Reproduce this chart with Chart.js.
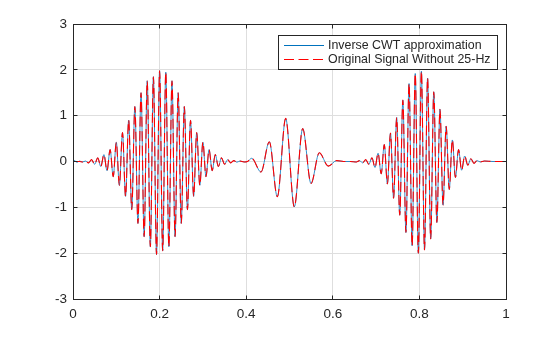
<!DOCTYPE html>
<html>
<head>
<meta charset="utf-8">
<script src="https://cdn.jsdelivr.net/npm/chart.js@4"></script>
<style>
  html, body { margin: 0; padding: 0; background: #fff; }
</style>
</head>
<body>
<canvas id="cwtChart" width="560" height="337"></canvas>
<script>
// Time axis (s): extrema of each burst plus a few quiet points between them
const timeSec = [
  0, 0.004, 0.009, 0.015, 0.022, 0.029,
  0.0357, 0.0429, 0.05, 0.0571, 0.0643, 0.0714, 0.0786, 0.0857, 0.0929, 0.1,
  0.1071, 0.1143, 0.1214, 0.1286, 0.1357, 0.1429, 0.15, 0.1571, 0.1643, 0.1714,
  0.1786, 0.1857, 0.1929, 0.2, 0.2071, 0.2143, 0.2214, 0.2286, 0.2357, 0.2429,
  0.25, 0.2571, 0.2643, 0.2714, 0.2786, 0.2857, 0.2929, 0.3, 0.3071, 0.3143,
  0.3214, 0.3286, 0.3357, 0.3429, 0.35, 0.3571, 0.3643,
  0.3714, 0.3786, 0.3857, 0.395, 0.403,
  0.4126, 0.4342, 0.4534, 0.4719, 0.4912, 0.5111, 0.5305, 0.5497, 0.5688, 0.5896,
  0.609, 0.625, 0.64,
  0.6546, 0.6618, 0.6689, 0.6761, 0.6832, 0.6904, 0.6975, 0.7046, 0.7118, 0.7189,
  0.7261, 0.7332, 0.7404, 0.7475, 0.7546, 0.7618, 0.7689, 0.7761, 0.7832, 0.7904,
  0.7975, 0.8046, 0.8118, 0.8189, 0.8261, 0.8332, 0.8404, 0.8475, 0.8546, 0.8618,
  0.8689, 0.8761, 0.8832, 0.8904, 0.8975, 0.9046, 0.9118, 0.9189, 0.9261, 0.9332,
  0.9404,
  0.95, 0.97, 1
];

// original signal with the 25 Hz tone taken out
const signalNo25Hz = [
  0, 0, 0, 0, -0.01, 0.01,
  -0.03, 0.04, -0.06, 0.08, -0.11, 0.15, -0.20, 0.26, -0.33, 0.42,
  -0.52, 0.63, -0.76, 0.90, -1.05, 1.20, -1.35, 1.50, -1.64, 1.76,
  -1.86, 1.85, -2.03, 1.98, -1.95, 1.95, -1.86, 1.76, -1.64, 1.50,
  -1.35, 1.20, -1.05, 0.90, -0.76, 0.63, -0.52, 0.42, -0.33, 0.26,
  -0.20, 0.15, -0.11, 0.08, -0.06, 0.04, -0.03,
  0.02, -0.015, 0.01, -0.01, 0,
  0.07, -0.23, 0.43, -0.77, 0.94, -0.99, 0.72, -0.48, 0.19, -0.10,
  0.02, 0, 0,
  -0.01, 0.02, -0.03, 0.04, -0.06, 0.08, -0.13, 0.18, -0.27, 0.37,
  -0.49, 0.62, -0.80, 0.96, -1.17, 1.34, -1.55, 1.70, -1.84, 1.92,
  -2.00, 1.97, -1.93, 1.82, -1.69, 1.52, -1.33, 1.14, -0.95, 0.77,
  -0.61, 0.47, -0.35, 0.26, -0.19, 0.12, -0.08, 0.06, -0.04, 0.02,
  -0.01,
  0.01, 0, 0
];

// band-limited reconstruction from the inverse CWT
const icwtApprox = [
  0, 0.02, -0.02, 0.01, -0.01, 0.01,
  -0.03, 0.04, -0.06, 0.08, -0.11, 0.15, -0.20, 0.26, -0.33, 0.42,
  -0.52, 0.63, -0.76, 0.90, -1.05, 1.20, -1.35, 1.50, -1.64, 1.76,
  -1.86, 1.85, -2.03, 1.98, -1.95, 1.95, -1.86, 1.76, -1.64, 1.50,
  -1.35, 1.20, -1.05, 0.90, -0.76, 0.63, -0.52, 0.42, -0.33, 0.26,
  -0.20, 0.15, -0.11, 0.08, -0.06, 0.04, -0.03,
  0.02, -0.015, 0.01, -0.01, 0,
  0.07, -0.23, 0.43, -0.77, 0.94, -0.99, 0.72, -0.48, 0.19, -0.10,
  0.02, 0, 0,
  -0.01, 0.02, -0.03, 0.04, -0.06, 0.08, -0.13, 0.18, -0.27, 0.37,
  -0.49, 0.62, -0.80, 0.96, -1.17, 1.34, -1.55, 1.70, -1.84, 1.92,
  -2.00, 1.97, -1.93, 1.82, -1.69, 1.52, -1.33, 1.14, -0.95, 0.77,
  -0.61, 0.47, -0.35, 0.26, -0.19, 0.12, -0.08, 0.06, -0.04, 0.02,
  -0.01,
  0.01, 0, 0
];

const xTicks = [0, 0.2, 0.4, 0.6, 0.8, 1];
const yTicks = [-3, -2, -1, 0, 1, 2, 3];
const seriesNames = ["Inverse CWT approximation", "Original Signal Without 25-Hz"];

const BLUE = "#0072bd";
const RED = "#ff0000";
const AXIS = "#262626";
const DASH = [10, 4.5];
const FONT = "Liberation Sans, Arial, sans-serif";

const toPoints = ys => timeSec.map((t, i) => ({ x: t, y: ys[i] }));

// box round the axes, inward ticks on all four sides, and the legend
const frameAndKey = {
  id: "frameAndKey",
  afterDraw(chart) {
    const { ctx, chartArea: a, scales: { x, y } } = chart;
    const al = p => Math.round(p - 0.5) + 0.5;
    const L = al(a.left), R = al(a.right), T = al(a.top), B = al(a.bottom);
    ctx.save();
    ctx.strokeStyle = AXIS;
    ctx.lineWidth = 1;
    ctx.beginPath();
    xTicks.forEach(v => {
      const px = al(x.getPixelForValue(v));
      ctx.moveTo(px, B); ctx.lineTo(px, B - 4);
      ctx.moveTo(px, T); ctx.lineTo(px, T + 4);
    });
    yTicks.forEach(v => {
      const py = al(y.getPixelForValue(v));
      ctx.moveTo(L, py); ctx.lineTo(L + 4, py);
      ctx.moveTo(R, py); ctx.lineTo(R - 4, py);
    });
    ctx.stroke();
    ctx.strokeRect(L, T, R - L, B - T);

    // legend
    const bx = 278.5, by = 35.5, bw = 219, bh = 34;
    ctx.fillStyle = "#fff";
    ctx.fillRect(bx, by, bw, bh);
    ctx.strokeStyle = AXIS;
    ctx.strokeRect(bx, by, bw, bh);
    const rows = [
      { label: seriesNames[0], color: BLUE, dash: [], yy: 45.5 },
      { label: seriesNames[1], color: RED, dash: DASH, yy: 59.5 }
    ];
    ctx.font = "12.4px " + FONT;
    ctx.textBaseline = "middle";
    ctx.textAlign = "left";
    rows.forEach(r => {
      ctx.strokeStyle = r.color;
      ctx.setLineDash(r.dash);
      ctx.beginPath();
      ctx.moveTo(284, r.yy);
      ctx.lineTo(324, r.yy);
      ctx.stroke();
      ctx.setLineDash([]);
      ctx.fillStyle = AXIS;
      ctx.fillText(r.label, 328, r.yy);
    });
    ctx.restore();
  }
};

new Chart(document.getElementById("cwtChart"), {
  type: "line",
  data: {
    datasets: [
      {
        label: seriesNames[0],
        data: toPoints(icwtApprox),
        borderColor: BLUE,
        borderWidth: 0.8,
        pointRadius: 0,
        cubicInterpolationMode: "monotone",
        order: 2
      },
      {
        label: seriesNames[1],
        data: toPoints(signalNo25Hz),
        borderColor: RED,
        borderWidth: 1.1,
        borderDash: DASH,
        pointRadius: 0,
        cubicInterpolationMode: "monotone",
        order: 1
      }
    ]
  },
  options: {
    responsive: false,
    animation: false,
    devicePixelRatio: 1,
    layout: { padding: { top: 24, right: 54, left: 0, bottom: 0 } },
    plugins: { legend: { display: false }, tooltip: { enabled: false } },
    scales: {
      x: {
        type: "linear",
        min: 0,
        max: 1,
        afterBuildTicks: s => { s.ticks = xTicks.map(v => ({ value: v })); },
        afterFit: s => { s.height = 38; },
        grid: { color: "#dedede", drawTicks: false },
        border: { display: false },
        ticks: {
          padding: 7,
          maxRotation: 0,
          color: AXIS,
          font: { family: FONT, size: 13.5 },
          callback: v => String(v)
        }
      },
      y: {
        type: "linear",
        min: -3,
        max: 3,
        afterBuildTicks: s => { s.ticks = yTicks.map(v => ({ value: v })); },
        afterFit: s => { s.width = 73; },
        grid: { color: "#dedede", drawTicks: false },
        border: { display: false },
        ticks: {
          padding: 6,
          color: AXIS,
          font: { family: FONT, size: 13.5 },
          callback: v => String(v)
        }
      }
    }
  },
  plugins: [frameAndKey]
});
</script>
</body>
</html>
